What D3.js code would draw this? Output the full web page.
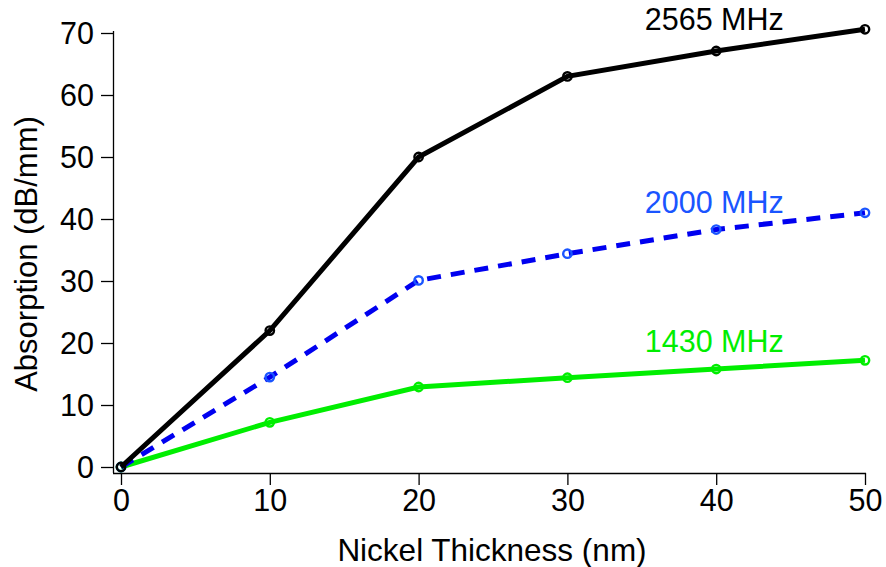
<!DOCTYPE html>
<html><head><meta charset="utf-8">
<script src="https://cdn.jsdelivr.net/npm/d3@7"></script>
<style>body{margin:0;background:#fff}text{font-family:"Liberation Sans",Arial,Helvetica,sans-serif}</style>
</head><body>
<svg id="c" width="886" height="567"></svg>
<script>
const thickness = [0, 10, 20, 30, 40, 50];
const abs2565 = [0, 22, 50, 63, 67.1, 70.6];
const abs2000 = [0, 14.5, 30.1, 34.4, 38.3, 41];
const abs1430 = [0, 7.2, 12.9, 14.4, 15.8, 17.2];
const xTicks = [0, 10, 20, 30, 40, 50];
const yTicks = [0, 10, 20, 30, 40, 50, 60, 70];
const seriesLabels = ["2565 MHz", "2000 MHz", "1430 MHz"];

const svg = d3.select("#c");
const x = d3.scaleLinear().domain([0, 50]).range([121, 865]);
const y = d3.scaleLinear().domain([0, 70]).range([467, 33]);

const xAxis = d3.axisBottom(x).tickValues(xTicks).tickSize(12).tickSizeOuter(0).tickPadding(4);
const gx = svg.append("g").attr("transform", "translate(0,473)").call(xAxis);
gx.select(".domain").attr("d", "M113,0.5H866");
const yAxis = d3.axisLeft(y).tickValues(yTicks).tickSize(12).tickSizeOuter(0).tickPadding(7);
const gy = svg.append("g").attr("transform", "translate(113,0)").call(yAxis);
gy.select(".domain").attr("d", "M0.5,31V473");
svg.selectAll(".tick text").attr("font-size", 30.5).attr("fill", "#000").style("font-family", '"Liberation Sans",Arial,sans-serif');
svg.selectAll(".domain, .tick line").attr("stroke", "#000").attr("stroke-width", 1.3);
gy.selectAll(".tick text").attr("dy", "0.36em");
gx.selectAll(".tick text").attr("dy", "0.72em");

svg.append("text").attr("x", 492).attr("y", 561).attr("text-anchor", "middle")
  .attr("font-size", 31.5).text("Nickel Thickness (nm)");
svg.append("text").attr("transform", "translate(37,254) rotate(-90)").attr("text-anchor", "middle")
  .attr("font-size", 31).text("Absorption (dB/mm)");

const series = [
  {vals: abs1430, line: "#00ee00", mark: "#00ee00", text: "#00ee00", dash: null, label: seriesLabels[2], ly: 18.5},
  {vals: abs2000, line: "#0000f0", mark: "#1a55ff", text: "#1a55ff", dash: "14,10", label: seriesLabels[1], ly: 41},
  {vals: abs2565, line: "#000000", mark: "#000000", text: "#000000", dash: null, label: seriesLabels[0], ly: 70.5}
];
const line = d3.line().x((d, i) => x(thickness[i])).y(d => y(d));
series.forEach(s => {
  svg.append("path").attr("d", line(s.vals)).attr("fill", "none")
    .attr("stroke", s.line).attr("stroke-width", 5)
    .attr("stroke-dasharray", s.dash).attr("stroke-linejoin", "miter");
  svg.append("g").selectAll("circle").data(s.vals).join("circle")
    .attr("cx", (d, i) => x(thickness[i])).attr("cy", d => y(d)).attr("r", 4.2)
    .attr("fill", "none").attr("stroke", s.mark).attr("stroke-width", 2.4);
  svg.append("text").attr("x", x(35.2)).attr("y", y(s.ly)).attr("font-size", 30.5)
    .attr("fill", s.text).text(s.label);
});
</script>
</body></html>
